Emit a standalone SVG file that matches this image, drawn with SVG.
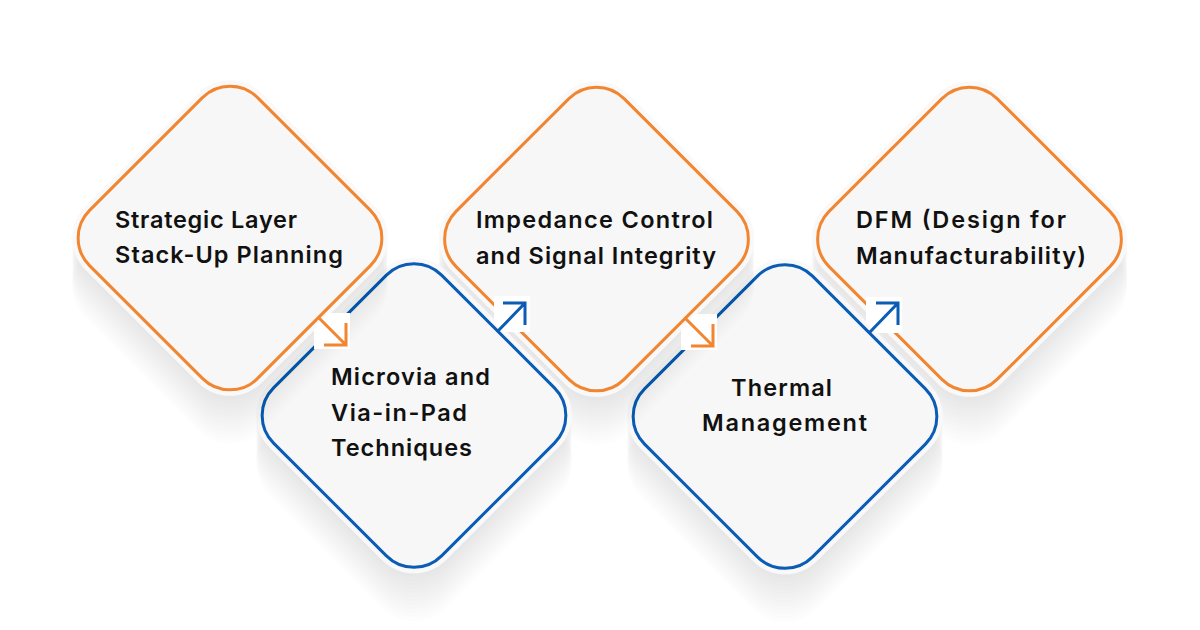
<svg xmlns="http://www.w3.org/2000/svg" xmlns:xlink="http://www.w3.org/1999/xlink" width="1200" height="630" viewBox="0 0 1200 630">
<style>
.ext use{fill:#000;fill-opacity:0.008}
.card{fill:#f9f9f9}
.face{fill:#f7f7f7;stroke-width:3}
.or{stroke:#f2852f}
.bl{stroke:#0a5cb4}
.lbl{font-family:Inter,"Open Sans","Liberation Sans",sans-serif;font-weight:600;font-size:23.5px;fill:#111}
.arr{fill:none;stroke-width:3;stroke-linejoin:miter;stroke-linecap:butt}
.mask{fill:#fff}
</style>
<defs>
<rect id="card" x="-124.8" y="-124.8" width="249.6" height="249.6" rx="45" transform="rotate(45)"/>
<rect id="face" x="-118.8" y="-118.8" width="237.6" height="237.6" rx="39" transform="rotate(45)"/>
<g id="extr">
<use href="#card" y="48"/><use href="#card" y="44"/><use href="#card" y="40"/><use href="#card" y="36"/>
<use href="#card" y="32"/><use href="#card" y="28"/><use href="#card" y="24"/><use href="#card" y="20"/>
<use href="#card" y="16"/><use href="#card" y="12"/><use href="#card" y="8"/><use href="#card" y="4"/>
</g>
<path id="arrDR" d="M0,0 L28,28 M6,28 H28 V6"/>
<path id="arrUR" d="M0,0 L28,-29 M6,-29 H28 V-7"/>
</defs>
<rect width="1200" height="630" fill="#fff"/>

<g id="node5">
<g transform="translate(969.5,239)"><g class="ext"><use href="#extr"/></g><use href="#card" class="card"/><use href="#face" class="face or"/></g>
<text class="lbl" x="856" y="228" textLength="210">DFM (Design for</text>
<text class="lbl" x="856" y="264" textLength="230">Manufacturability)</text>
</g>

<g id="node4">
<g transform="translate(785,416.5)"><g class="ext"><use href="#extr"/></g><use href="#card" class="card"/><use href="#face" class="face bl"/></g>
<text class="lbl" x="731" y="396" textLength="101">Thermal</text>
<text class="lbl" x="702" y="431" textLength="165">Management</text>
</g>

<g id="node3">
<g transform="translate(596.5,239)"><g class="ext"><use href="#extr"/></g><use href="#card" class="card"/><use href="#face" class="face or"/></g>
<text class="lbl" x="476" y="228" textLength="237">Impedance Control</text>
<text class="lbl" x="476" y="264" textLength="240">and Signal Integrity</text>
</g>

<g id="node2">
<g transform="translate(414,415.5)"><g class="ext"><use href="#extr"/></g><use href="#card" class="card"/><use href="#face" class="face bl"/></g>
<text class="lbl" x="331" y="385" textLength="159">Microvia and</text>
<text class="lbl" x="331" y="421" textLength="136">Via-in-Pad</text>
<text class="lbl" x="331" y="456" textLength="141">Techniques</text>
</g>

<g id="node1">
<g transform="translate(230,238)"><g class="ext"><use href="#extr"/></g><use href="#card" class="card"/><use href="#face" class="face or"/></g>
<text class="lbl" x="115" y="228" textLength="182">Strategic Layer</text>
<text class="lbl" x="115" y="263" textLength="228">Stack-Up Planning</text>
</g>

<g id="connectors">
<polygon class="mask" points="328,313 350,313 350,349 314,349 314,327"/>
<use href="#arrDR" class="arr or" x="318" y="317"/>
<polygon class="mask" points="494,296 530,296 530,332 504,332 494,322"/>
<use href="#arrUR" class="arr bl" x="497" y="332"/>
<polygon class="mask" points="695,314 717,314 717,350 681,350 681,328"/>
<use href="#arrDR" class="arr or" x="685" y="318"/>
<polygon class="mask" points="866,297 902,297 902,333 876,333 866,323"/>
<use href="#arrUR" class="arr bl" x="870" y="332"/>
</g>
</svg>
